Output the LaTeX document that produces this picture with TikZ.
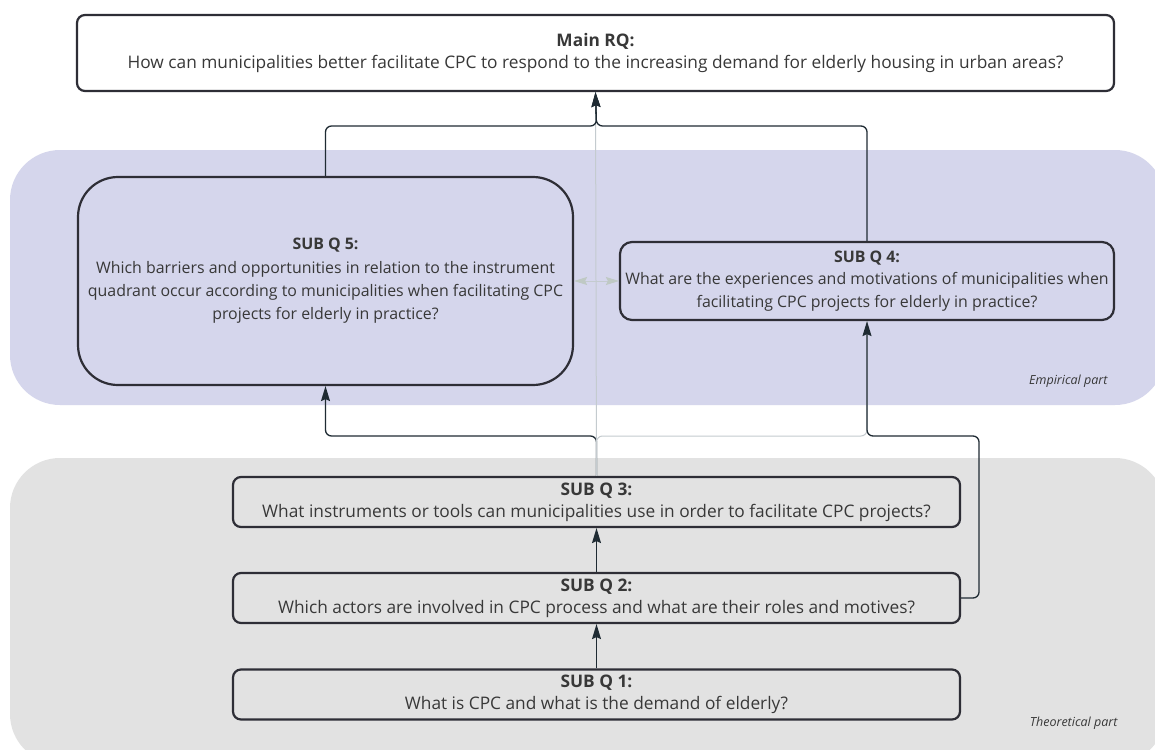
\documentclass[tikz,border=0pt]{standalone}
\usepackage{fontspec}
\setmainfont{Open Sans}
\usetikzlibrary{arrows.meta}
\definecolor{bandblue}{HTML}{D5D6EC}
\definecolor{bandgrey}{HTML}{E2E2E2}
\definecolor{boxline}{HTML}{2E2E36}
\definecolor{txt}{HTML}{383838}
\definecolor{wire}{HTML}{1F2B33}
\definecolor{softwire}{HTML}{C4CBCF}
\definecolor{softtip}{HTML}{BFC9C4}
\begin{document}
\begin{tikzpicture}[x=1pt,y=-1pt,
  font=\fontsize{17.3}{22}\selectfont, text=txt,
  qbox/.style={draw=boxline, line width=2.2pt, rounded corners=8pt, align=center, inner sep=0pt},
  link/.style={draw=wire, line width=1.3pt, rounded corners=6pt},
  softlink/.style={draw=softwire, line width=1pt, rounded corners=6pt},
  tip/.style={-{Stealth[length=15pt,width=9pt,inset=2pt]}},
  tag/.style={font=\fontsize{12.5}{14}\selectfont\itshape, text=txt, anchor=base east}]
\useasboundingbox (0,0) rectangle (1155,749);
\clip (0,0) rectangle (1155,749);
\fill[white] (0,0) rectangle (1155,749);

% background bands
\fill[bandblue, rounded corners=50pt] (10,150) rectangle (1165,405);
\fill[bandgrey, rounded corners=50pt] (10,458) rectangle (1165,764);
\node[tag] (emp) at (1111,384) {Empirical part};
\node[tag] (theo) at (1121,726) {Theoretical part};

% question boxes
\node[qbox, fill=white, minimum width=1037pt, minimum height=76pt] (main) at (595.5,53)
  {\textbf{Main RQ:}\\How can municipalities better facilitate CPC to respond to the increasing demand for elderly housing in urban areas?};
\node[qbox, rounded corners=40pt, minimum width=495pt, minimum height=208pt,
  font=\fontsize{15.9}{23.3}\selectfont] (q5) at (325.5,281)
  {\textbf{SUB Q 5:}\\Which barriers and opportunities in relation to the instrument\\quadrant occur according to municipalities when facilitating CPC\\projects for elderly in practice?};
\node[qbox, rounded corners=12pt, minimum width=494pt, minimum height=78pt,
  font=\fontsize{15.9}{22.5}\selectfont] (q4) at (867,281)
  {\textbf{SUB Q 4:}\\What are the experiences and motivations of municipalities when\\facilitating CPC projects for elderly in practice?};
\node[qbox, minimum width=727pt, minimum height=50pt] (q3) at (596.5,502)
  {\textbf{SUB Q 3:}\\What instruments or tools can municipalities use in order to facilitate CPC projects?};
\node[qbox, minimum width=727pt, minimum height=50pt] (q2) at (596.5,598)
  {\textbf{SUB Q 2:}\\Which actors are involved in CPC process and what are their roles and motives?};
\node[qbox, minimum width=727pt, minimum height=50pt] (q1) at (596.5,694.5)
  {\textbf{SUB Q 1:}\\What is CPC and what is the demand of elderly?};

% junction points of the connectors
\coordinate (topjoin) at (596.5,126);
\coordinate (midjoin) at (596.5,436);
\coordinate (sidejoin) at (979,436);

% connectors
\draw[link, tip] (q3.north) -- (midjoin) -| (q5.south);
\draw[softlink] (q3.north) -- (main.south);
\draw[softlink] (q3.north) -- (midjoin) -| (q4.south);
\draw[link, tip] (q2.east) -| (sidejoin) -| (q4.south);
\draw[link, tip] (q5.north) |- (topjoin) -- (main.south);
\draw[link, tip] (q4.north) |- (topjoin) -- (main.south);
\draw[link, tip] (q1.north) -- (q2.south);
\draw[link, tip] (q2.north) -- (q3.south);
\draw[draw=softwire, line width=1pt,
  {Stealth[length=13pt,width=8pt,inset=2pt,color=softtip]}-{Stealth[length=13pt,width=8pt,inset=2pt,color=softtip]}]
  (q5.east) -- (q4.west);
\end{tikzpicture}
\end{document}
